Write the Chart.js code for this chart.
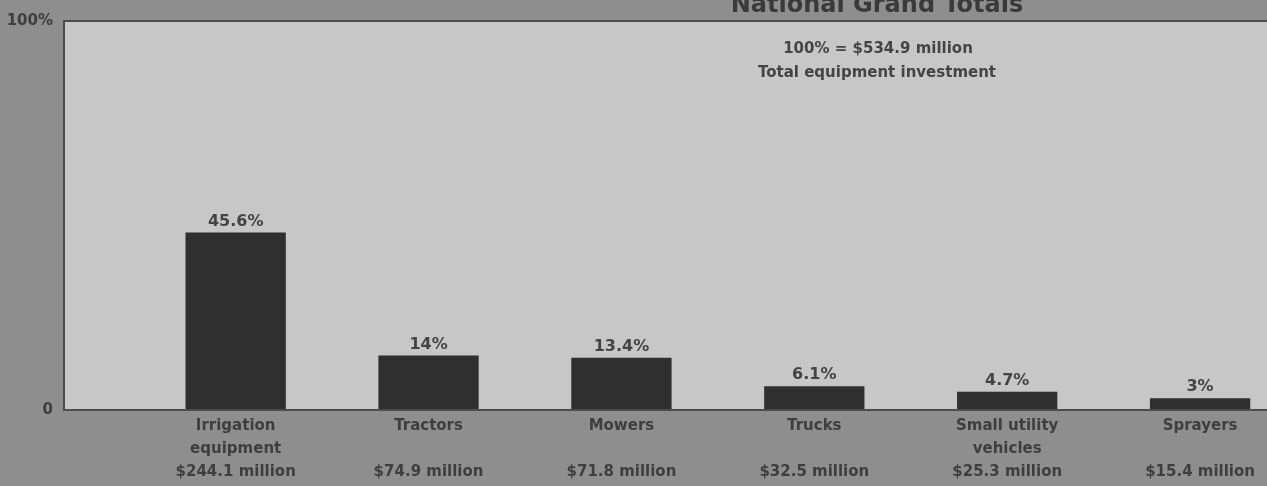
<!DOCTYPE html>
<html>
<head>
<meta charset="utf-8">
<title>National Grand Totals</title>
<script src="https://cdn.jsdelivr.net/npm/chart.js@4/dist/chart.umd.min.js"></script>
<style>
  html, body { margin:0; padding:0; background:#8e8e8e; overflow:hidden; }
  #wrap { width:1267px; height:486px; }
</style>
</head>
<body>
<div id="wrap"><canvas id="bars" width="1267" height="486"></canvas></div>
<script>
const $ = (sel, root=document) => root.querySelector(sel);

// equipment categories, share of total investment (%), and dollar amounts ($ million)
const CATEGORIES = [
  ['Irrigation', 'equipment'],
  ['Tractors'],
  ['Mowers'],
  ['Trucks'],
  ['Small utility', 'vehicles'],
  ['Sprayers'],
];
const SHARES   = [45.6, 14, 13.4, 6.1, 4.7, 3];
const MILLIONS = [244.1, 74.9, 71.8, 32.5, 25.3, 15.4];
const TOTAL_MILLIONS = 534.9;
const Y_TICKS = [0, 100];

const FONT = '"DejaVu Sans", "Liberation Sans", Arial, sans-serif';
const INK = '#3e3e3e';

function money(v){
  return '$' + v.toFixed(1) + ' million';
}

// category name (1 or 2 lines), then the dollar figure
function tickLines(i){
  const name = CATEGORIES[i] || [];
  return [name[0] || '', name[1] || '', money(MILLIONS[i])];
}

// light panel + frame behind the bars, text overlays on top
const panel = {
  id: 'panel',
  beforeDatasetsDraw(chart){
    const { ctx, chartArea:a } = chart;
    ctx.save();
    ctx.fillStyle = '#c7c7c7';
    ctx.fillRect(a.left, a.top, a.right - a.left, a.bottom - a.top);
    ctx.restore();
  },
  afterDatasetsDraw(chart){
    const { ctx, chartArea:a } = chart;
    ctx.save();
    ctx.strokeStyle = '#4c4c4c';
    ctx.lineWidth = 2;
    ctx.beginPath();
    ctx.moveTo(a.right + 2, a.top);
    ctx.lineTo(a.left, a.top);
    ctx.lineTo(a.left, a.bottom);
    ctx.lineTo(a.right + 2, a.bottom);
    ctx.stroke();

    // share labels over each bar
    ctx.fillStyle = '#444';
    ctx.font = `bold 16px ${FONT}`;
    ctx.textAlign = 'center';
    ctx.textBaseline = 'alphabetic';
    chart.getDatasetMeta(0).data.forEach((bar, i) => {
      ctx.fillText(SHARES[i] + '%', bar.x, bar.y - 7);
    });

    // title (runs off the top edge) and the total note
    ctx.fillStyle = '#3a3a3a';
    ctx.font = `bold 24px ${FONT}`;
    ctx.fillText('National Grand Totals', 877, 12);

    ctx.fillStyle = '#444';
    ctx.font = `bold 15px ${FONT}`;
    ctx.textBaseline = 'middle';
    ctx.fillText('100% = ' + money(TOTAL_MILLIONS), 878, 49);
    ctx.fillText('Total equipment investment', 877, 73);
    ctx.restore();
  }
};

function setupChart(){
  const ctx = $('#bars');
  return new Chart(ctx, {
    type: 'bar',
    data: {
      datasets: [{
        data: SHARES.map((v, i) => ({ x:i, y:v })),
        backgroundColor: '#2f2f2f',
        borderWidth: 0,
        barPercentage: 0.52,
        categoryPercentage: 1,
      }]
    },
    options: {
      responsive: false,
      animation: false,
      layout: { padding: { top:21, left:0, right:0, bottom:0 } },
      plugins: { legend:{ display:false }, tooltip:{ enabled:false }, title:{ display:false } },
      scales: {
        x: {
          type: 'linear',
          offset: false,
          min: -0.89,
          max: 5.347,
          grid: { display:false, drawTicks:false, offset:false },
          border: { display:false },
          afterBuildTicks: (s) => { s.ticks = CATEGORIES.map((_, i) => ({ value:i })); },
          afterFit: (s) => { s.height = 76; },
          ticks: {
            autoSkip: false,
            maxRotation: 0,
            padding: 5,
            color: INK,
            font: { family: FONT, size: 15, weight: 'bold', lineHeight: '23px' },
            callback: (v) => tickLines(v),
          }
        },
        y: {
          min: 0,
          max: 100,
          grid: { display:false, drawTicks:false },
          border: { display:false },
          afterBuildTicks: (s) => { s.ticks = Y_TICKS.map(v => ({ value:v })); },
          afterFit: (s) => { s.width = 64; },
          ticks: {
            padding: 11,
            color: INK,
            font: { family: FONT, size: 15, weight: 'bold' },
            callback: (v) => v === 100 ? '100%' : String(v),
          }
        }
      }
    },
    plugins: [panel]
  });
}

setupChart();
</script>
</body>
</html>
